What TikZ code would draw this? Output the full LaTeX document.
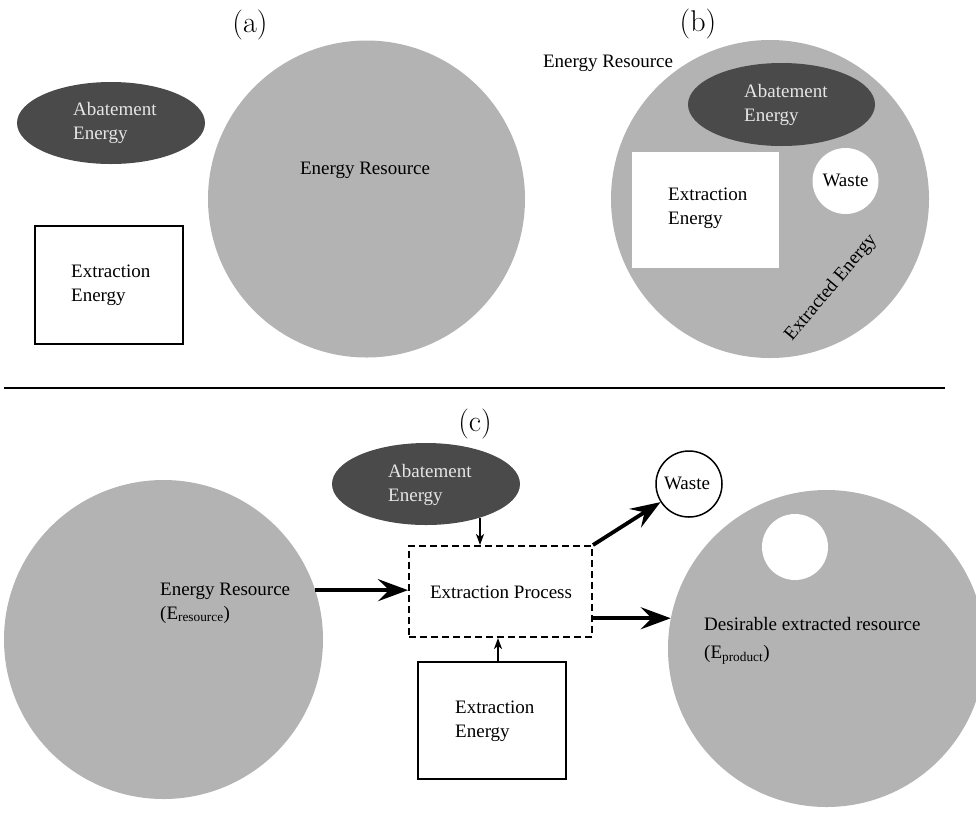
\documentclass[tikz,border=0pt]{standalone}
\usepackage{fontspec}
\newfontfamily\tnr{Liberation Serif}
\newfontfamily\lmr{Latin Modern Roman}
\usetikzlibrary{shapes.geometric,arrows.meta}
\definecolor{resgray}{HTML}{B3B3B3}
\definecolor{darkfill}{HTML}{4A4A4A}
\definecolor{lighttext}{HTML}{E6E6E6}
\tikzset{
  lbl/.style={font=\tnr\fontsize{19}{24}\selectfont, inner sep=0pt, align=left},
  panellbl/.style={font=\lmr\fontsize{30}{34}\selectfont, inner sep=0pt},
  rescircle/.style={circle, fill=resgray, draw=none, inner sep=0pt},
  abell/.style={ellipse, fill=darkfill, draw=none, inner sep=0pt, minimum width=188pt, minimum height=82pt},
  eebox/.style={rectangle, inner sep=0pt, line width=2pt},
  bigarrow/.style={line width=3.8pt, -{Stealth[length=30pt,width=22pt,inset=11pt]}},
  thinarrow/.style={line width=1.8pt, -{Stealth[length=11pt,width=8pt,inset=3pt]}}
}
\begin{document}
\begin{tikzpicture}[x=1pt,y=-1pt]
\useasboundingbox (0,0) rectangle (976,812);
% ---------- panel (a)
\node[panellbl] (la) at (250,25) {(a)};
\node[abell] (abA) at (111,123) {};
\node[lbl, anchor=west, text=lighttext] (abAt) at (73,123) {Abatement\\Energy};
\node[eebox, draw, minimum width=148pt, minimum height=118pt] (eeA) at (109,285) {};
\node[lbl, anchor=west] (eeAt) at (71,285) {Extraction\\Energy};
\node[rescircle, minimum size=317pt] (resA) at (366.5,199) {};
\node[lbl, anchor=center] (resAt) at (365,170) {Energy Resource};
% ---------- panel (b)
\node[panellbl] (lb) at (698,24) {(b)};
\node[rescircle, minimum size=318pt] (resB) at (770,199) {};
\node[lbl, anchor=center] (resBt) at (608,63) {Energy Resource};
\node[abell, minimum width=187pt, minimum height=83pt] (abB) at (781.5,104.5) {};
\node[lbl, anchor=west, text=lighttext] (abBt) at (744,105) {Abatement\\Energy};
\node[eebox, fill=white, minimum width=147pt, minimum height=116pt] (eeB) at (705.5,210) {};
\node[lbl, anchor=west] (eeBt) at (668,208) {Extraction\\Energy};
\node[circle, fill=white, inner sep=0pt, minimum size=66pt] (wasteB) at (845.5,181) {};
\node[lbl, anchor=center] (wasteBt) at (845.5,180) {Waste};
\node[lbl, anchor=center, rotate=50] (extB) at (831,288) {Extracted Energy};
% ---------- divider
\coordinate (divL) at (4,388);
\coordinate (divR) at (945,388);
\draw[line width=2.5pt] (divL) -- (divR);
% ---------- panel (c)
\node[panellbl] (lc) at (475,424) {(c)};
\node[rescircle, minimum size=319pt] (resC) at (163.5,639.5) {};
\node[lbl, anchor=west] (resCt) at (160,603) {Energy Resource\\(E\textsubscript{resource})};
\node[abell] (abC) at (426,484) {};
\node[lbl, anchor=west, text=lighttext] (abCt) at (388,485) {Abatement\\Energy};
\node[rectangle, draw, dash pattern=on 7pt off 4pt, line width=2pt, minimum width=183pt, minimum height=91pt, inner sep=0pt] (proc) at (500.5,591.5) {};
\node[lbl, anchor=center] (procT) at (501,592) {Extraction Process};
\node[eebox, draw, minimum width=148pt, minimum height=117pt] (eeC) at (492,720.5) {};
\node[lbl, anchor=west] (eeCt) at (455,721) {Extraction\\Energy};
\node[circle, draw, line width=1.5pt, fill=white, inner sep=0pt, minimum size=66pt] (wasteC) at (689,484) {};
\node[lbl, anchor=center] (wasteCt) at (687,483) {Waste};
\node[rescircle, minimum size=317pt] (prodC) at (826.5,648.5) {};
\node[circle, fill=white, inner sep=0pt, minimum size=66pt] (holeC) at (795,547) {};
\node[lbl, anchor=west, font=\tnr\fontsize{19}{28}\selectfont] (prodCt) at (704,641) {Desirable extracted resource\\(E\textsubscript{product})};
% connectors
\draw[bigarrow] (resC.18) -- (resC.18 -| proc.west);
\draw[bigarrow] (proc.north east) -- (wasteC);
\draw[bigarrow] (prodC.169 -| proc.east) -- (prodC.169);
\draw[thinarrow] (abC.-32.7) -- (abC.-32.7 |- proc.north);
\draw[thinarrow] ([xshift=6pt]eeC.north) -- ([xshift=6pt]eeC.north |- proc.south);
\end{tikzpicture}
\end{document}
